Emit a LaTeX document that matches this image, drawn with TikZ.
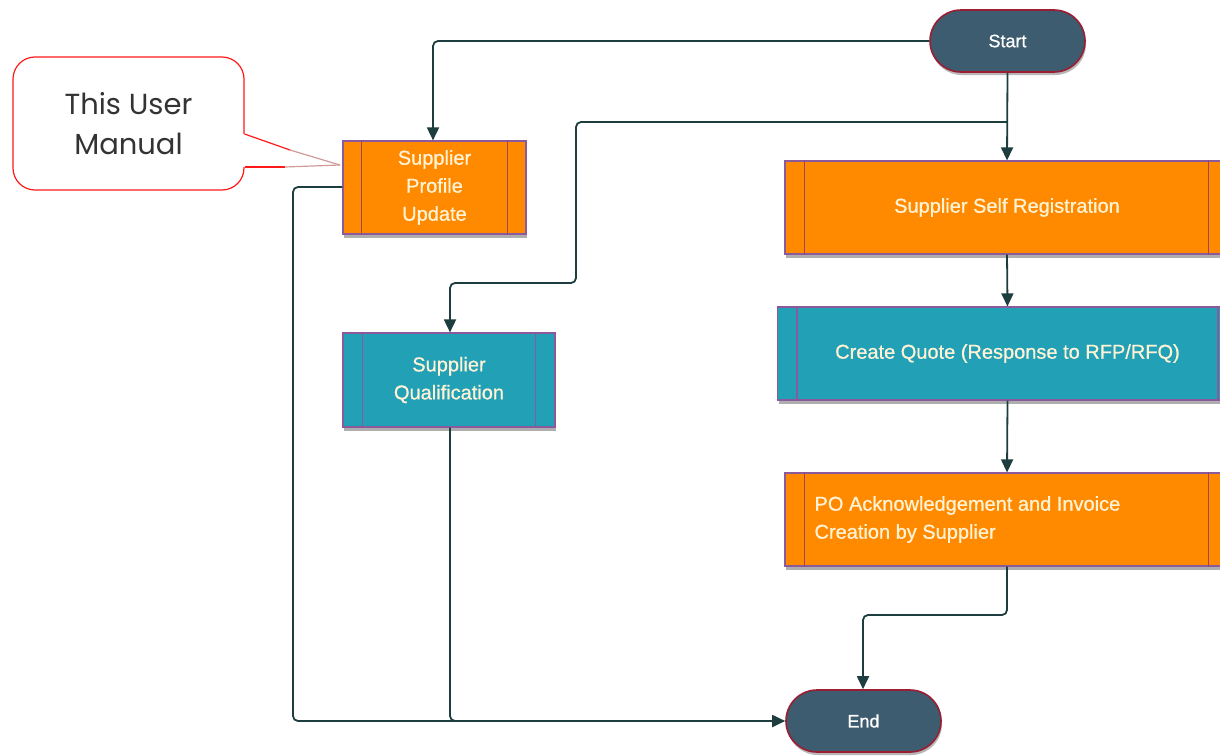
\documentclass[tikz,border=0pt]{standalone}
\usepackage{fontspec}
\setmainfont{Liberation Sans}
\newfontfamily\boxfont{Liberation Sans}[FakeBold=0.8]
\newfontfamily\callfont{Poppins}
\usetikzlibrary{shadows,arrows.meta}
\definecolor{orng}{HTML}{FF8A00}
\definecolor{tealbox}{HTML}{22A0B6}
\definecolor{pill}{HTML}{3E5C6F}
\definecolor{pillborder}{HTML}{9A1D32}
\definecolor{boxborder}{HTML}{8A5A9C}
\definecolor{innerline}{HTML}{A0455A}
\definecolor{conn}{HTML}{1E3D3E}
\definecolor{boxtext}{HTML}{FFF3D6}
\definecolor{calltext}{HTML}{333333}
\definecolor{callred}{HTML}{FF1A1A}
\tikzset{
  proc/.style={draw=boxborder, line width=1.2pt, text=boxtext, font=\boxfont\fontsize{20}{28}\selectfont,
    drop shadow={shadow xshift=1pt, shadow yshift=-4pt, opacity=0.45, fill=black!70}, inner sep=0pt, align=center},
  oproc/.style={proc, fill=orng},
  tproc/.style={proc, fill=tealbox},
  pillnode/.style={draw=pillborder, line width=1.6pt, fill=pill, rounded corners=31pt, text=white,
    font=\boxfont\fontsize{18}{20}\selectfont, minimum width=155pt, minimum height=62pt, inner sep=0pt,
    drop shadow={shadow xshift=1pt, shadow yshift=-3pt, opacity=0.4, fill=black!70}},
  conn/.style={draw=conn, line width=1.8pt, rounded corners=5pt, -{Triangle[length=13pt,width=12pt]}},
  connplain/.style={draw=conn, line width=1.8pt, rounded corners=5pt},
  inner/.style={draw=innerline, line width=1.4pt}
}
\begin{document}
\begin{tikzpicture}[x=1pt,y=-1pt]
\useasboundingbox (0,0) rectangle (1220,755);
\clip (0,0) rectangle (1220,755);
\fill[white] (0,0) rectangle (1220,755);

% nodes
\node[pillnode] (start) at (1007.5,41) {Start};
\node[pillnode] (end) at (863.5,721) {End};

\node[oproc, minimum width=183pt, minimum height=93pt] (prof) at (434.5,187.5) {Supplier\\Profile\\Update};
\node[tproc, minimum width=212pt, minimum height=94pt] (qual) at (449,380) {Supplier\\Qualification};
\node[oproc, minimum width=444pt, minimum height=93pt] (reg) at (1007,207.5) {Supplier Self Registration};
\node[tproc, minimum width=460pt, minimum height=93pt] (quote) at (1007.5,353.5) {Create Quote (Response to RFP/RFQ)};
\node[oproc, minimum width=444pt, minimum height=93pt] (po) at (1007,519.5) {};
\node[text=boxtext, font=\boxfont\fontsize{20}{28}\selectfont, align=left, anchor=west] (potext) at (811,519.5) {PO Acknowledgement and Invoice\\Creation by Supplier};

% inner lines
\draw[inner] ([xshift=19pt]prof.north west) -- ([xshift=19pt]prof.south west);
\draw[inner] ([xshift=-19pt]prof.north east) -- ([xshift=-19pt]prof.south east);
\draw[inner, draw=boxborder] ([xshift=20pt]qual.north west) -- ([xshift=20pt]qual.south west);
\draw[inner, draw=boxborder] ([xshift=-20pt]qual.north east) -- ([xshift=-20pt]qual.south east);
\draw[inner] ([xshift=20pt]reg.north west) -- ([xshift=20pt]reg.south west);
\draw[inner] ([xshift=-21pt]reg.north east) -- ([xshift=-21pt]reg.south east);
\draw[inner, draw=boxborder] ([xshift=20pt]quote.north west) -- ([xshift=20pt]quote.south west);
\draw[inner, draw=boxborder] ([xshift=-20pt]quote.north east) -- ([xshift=-20pt]quote.south east);
\draw[inner] ([xshift=20pt]po.north west) -- ([xshift=20pt]po.south west);
\draw[inner] ([xshift=-21pt]po.north east) -- ([xshift=-21pt]po.south east);

% connectors
\coordinate (b1) at (1007,122);
\draw[conn] (start.west) -| (prof.north -| 433,0);
\draw[conn] (start.south) -- (reg.north);
\draw[conn] (b1) -- (576,122) -- (576,283) -- (450,283) -- (qual.north -| 450,0);
\draw[conn] (reg.south) -- (quote.south |- quote.north);
\draw[conn] (quote.south) -- (po.north);
\draw[conn] (po.south) -- (1007,615) -- (863,615) -- (end.north -| 863,0);
\draw[conn] (prof.west |- 0,187) -- (293,187) -- (293,721) -- (end.west);
\draw[connplain] (qual.south -| 450,0) -- (450,721) -- (460,721);

% callout
\node[draw=callred, line width=1.2pt, fill=white, rounded corners=22pt, minimum width=231pt, minimum height=133pt,
  font=\callfont\fontsize{29}{40}\selectfont, text=calltext, align=center] (call) at (128.5,123.5) {This User\\Manual};
\coordinate (tip) at (340,165);
\fill[white] (243,134) -- (tip) -- (243,167) -- cycle;
\draw[callred, line width=1.2pt] (call.east |- 0,134) -- (290,150);
\draw[callred!40!gray!60, line width=1.2pt] (290,150) -- (tip);
\draw[callred, line width=1.2pt] (call.east |- 0,167) -- (285,167);
\draw[callred!40!gray!60, line width=1.2pt] (285,167) -- (tip);
\end{tikzpicture}
\end{document}
